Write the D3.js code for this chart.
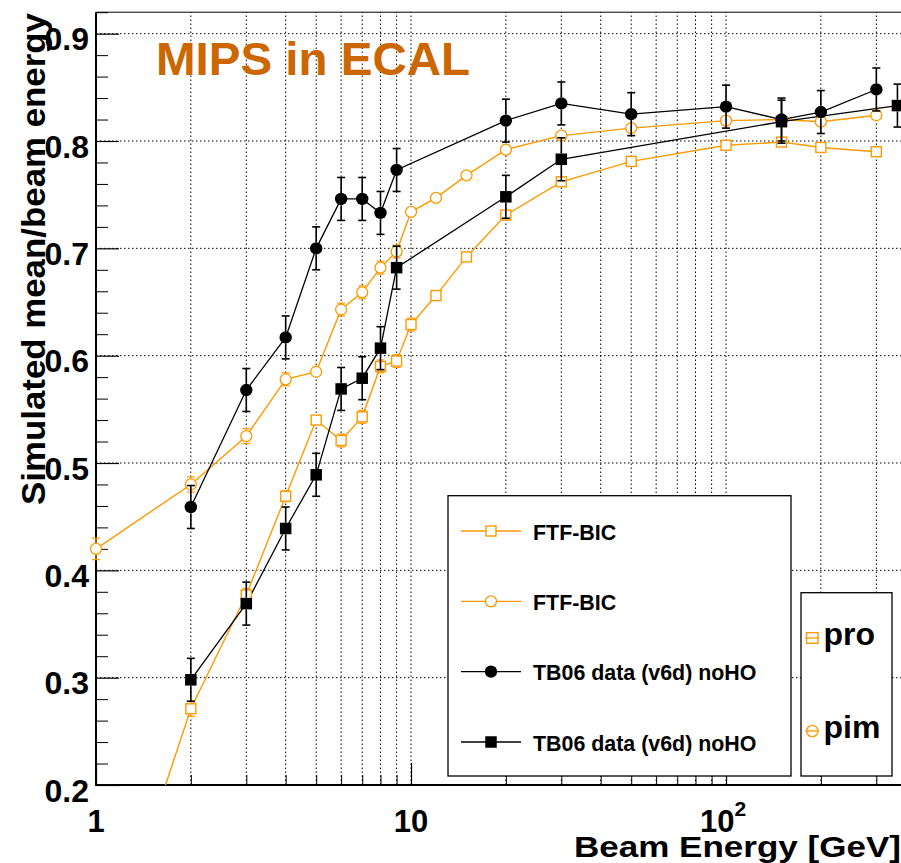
<!DOCTYPE html>
<html>
<head>
<meta charset="utf-8">
<script src="https://cdn.jsdelivr.net/npm/d3@7"></script>
<style>
  html, body { margin: 0; padding: 0; background: #fff; }
  svg { display: block; font-family: "Liberation Sans", Arial, Helvetica, sans-serif; font-weight: bold; }
</style>
</head>
<body>
<svg id="chart" width="901" height="863"></svg>
<script>
// ---------- DATA ----------
const energiesMC = [1, 2, 3, 4, 5, 6, 7, 8, 9, 10, 12, 15, 20, 30, 50, 100, 150, 200, 300];
const ftfPro    = [0.005, 0.271, 0.377, 0.469, 0.540, 0.521, 0.543, 0.590, 0.595, 0.629, 0.656, 0.692, 0.731, 0.762, 0.781, 0.796, 0.799, 0.794, 0.790];
const ftfProErr = [0.010, 0.007, 0.006, 0.005, 0.004, 0.006, 0.006, 0.006, 0.006, 0.006, 0.004, 0.004, 0.004, 0.004, 0.003, 0.003, 0.003, 0.003, 0.003];
const ftfPim    = [0.420, 0.480, 0.525, 0.578, 0.585, 0.643, 0.659, 0.682, 0.697, 0.734, 0.747, 0.768, 0.792, 0.805, 0.812, 0.819, 0.820, 0.818, 0.824];
const ftfPimErr = [0.010, 0.007, 0.007, 0.006, 0.005, 0.006, 0.006, 0.006, 0.006, 0.005, 0.004, 0.004, 0.004, 0.004, 0.003, 0.003, 0.003, 0.003, 0.003];

const energiesDataPim = [2, 3, 4, 5, 6, 7, 8, 9, 20, 30, 50, 100, 150, 200, 300];
const dataPim         = [0.459, 0.568, 0.617, 0.700, 0.746, 0.746, 0.733, 0.773, 0.819, 0.835, 0.825, 0.832, 0.820, 0.827, 0.848];
const dataPimErr      = [0.02, 0.02, 0.02, 0.02, 0.02, 0.02, 0.02, 0.02, 0.02, 0.02, 0.02, 0.02, 0.02, 0.02, 0.02];

const energiesDataPro = [2, 3, 4, 5, 6, 7, 8, 9, 20, 30, 150, 350];
const dataPro         = [0.298, 0.369, 0.439, 0.489, 0.569, 0.579, 0.607, 0.682, 0.748, 0.783, 0.818, 0.833];
const dataProErr      = [0.02, 0.02, 0.02, 0.02, 0.02, 0.02, 0.02, 0.02, 0.02, 0.02, 0.02, 0.02];

const legendLabels = ["FTF-BIC", "FTF-BIC", "TB06 data (v6d) noHO", "TB06 data (v6d) noHO"];
const particleLabels = ["pro", "pim"];
const yMajorTicks = [0.2, 0.3, 0.4, 0.5, 0.6, 0.7, 0.8, 0.9];
const yTickLabels = ["0.2", "0.3", "0.4", "0.5", "0.6", "0.7", "0.8", "0.9"];
const xMajorTicks = [1, 10, 100];
const xTickLabels = [["1", ""], ["10", ""], ["10", "2"]];
const xMinorTicks = [2, 3, 4, 5, 6, 7, 8, 9, 20, 30, 40, 50, 60, 70, 80, 90, 200, 300];
const titleText = "MIPS in ECAL";
const xTitle = "Beam Energy [GeV]";
const yTitle = "Simulated mean/beam energy";

// ---------- LAYOUT ----------
const ORANGE = "#ff9900";
const TITLE_COLOR = "#cc6600";
const L = 96, B = 785, T = 12.2, R = 915.7;
const svg = d3.select("#chart");
const x = d3.scaleLog().domain([1, 400]).range([L, R]);
const y = d3.scaleLinear().domain([0.2, 0.92]).range([B, T]);

svg.append("defs").append("clipPath").attr("id", "frameClip")
  .append("rect").attr("x", L).attr("y", T).attr("width", R - L).attr("height", B - T);

// grid
const grid = svg.append("g").attr("stroke", "#000").attr("stroke-width", 1).attr("stroke-dasharray", "1.5,2.5");
grid.selectAll("line.vx").data(xMinorTicks.concat([10, 100])).enter().append("line")
  .attr("x1", d => x(d)).attr("x2", d => x(d)).attr("y1", B).attr("y2", T);
grid.selectAll("line.hy").data(yMajorTicks.slice(1)).enter().append("line")
  .attr("x1", L).attr("x2", R).attr("y1", d => y(d)).attr("y2", d => y(d));

// ticks via d3 axes (inward)
const yMinorVals = d3.range(0, 37).map(i => +(0.2 + i * 0.02).toFixed(2));
svg.append("g").attr("transform", `translate(${L},0)`)
  .call(d3.axisLeft(y).tickValues(yMinorVals.filter(v => !yMajorTicks.some(m => Math.abs(m - v) < 1e-9))).tickSize(-12).tickFormat(""))
  .call(g => g.select(".domain").remove())
  .call(g => g.selectAll("line").attr("stroke", "#000").attr("stroke-width", 1));
svg.append("g").attr("transform", `translate(${L},0)`)
  .call(d3.axisLeft(y).tickValues(yMajorTicks).tickSize(-23).tickFormat(""))
  .call(g => g.select(".domain").remove())
  .call(g => g.selectAll("line").attr("stroke", "#000").attr("stroke-width", 1.2));
svg.append("g").attr("transform", `translate(0,${B})`)
  .call(d3.axisBottom(x).tickValues(xMinorTicks).tickSize(-10).tickFormat(""))
  .call(g => g.select(".domain").remove())
  .call(g => g.selectAll("line").attr("stroke", "#000").attr("stroke-width", 1));
svg.append("g").attr("transform", `translate(0,${B})`)
  .call(d3.axisBottom(x).tickValues(xMajorTicks).tickSize(-22).tickFormat(""))
  .call(g => g.select(".domain").remove())
  .call(g => g.selectAll("line").attr("stroke", "#000").attr("stroke-width", 1.2));

// frame
svg.append("line").attr("x1", L).attr("x2", R).attr("y1", T).attr("y2", T).attr("stroke", "#000").attr("stroke-width", 1);
svg.append("line").attr("x1", L).attr("x2", L).attr("y1", T).attr("y2", B + 1).attr("stroke", "#000").attr("stroke-width", 2);
svg.append("line").attr("x1", L - 1).attr("x2", R).attr("y1", B).attr("y2", B).attr("stroke", "#000").attr("stroke-width", 2);

// tick labels
svg.append("g").selectAll("text").data(yMajorTicks).enter().append("text")
  .attr("x", 89).attr("y", d => y(d) + 16.5).attr("text-anchor", "end")
  .attr("font-size", 32).text((d, i) => yTickLabels[i]);
const xl = svg.append("g").selectAll("text").data(xMajorTicks).enter().append("text")
  .attr("x", d => x(d)).attr("y", 832).attr("text-anchor", "middle").attr("font-size", 31);
xl.each(function(d, i) {
  const t = d3.select(this);
  const lab = xTickLabels[i];
  if (lab[1]) {
    t.attr("x", x(d) - 3);
    t.append("tspan").text(lab[0]);
    t.append("tspan").attr("font-size", 21).attr("dy", -16).text(lab[1]);
  } else {
    t.text(lab[0]);
  }
});

// axis titles
svg.append("text").attr("x", 574).attr("y", 857).attr("font-size", 29.5)
  .attr("textLength", 327).attr("lengthAdjust", "spacingAndGlyphs").text(xTitle);
svg.append("text").attr("transform", "translate(45,505) rotate(-90)").attr("font-size", 32.5)
  .attr("textLength", 492).attr("lengthAdjust", "spacingAndGlyphs").text(yTitle);

// title
svg.append("text").attr("x", 156).attr("y", 75).attr("font-size", 47).attr("fill", TITLE_COLOR)
  .attr("textLength", 314).attr("lengthAdjust", "spacingAndGlyphs").text(titleText);

// ---------- SERIES ----------
const lines = svg.append("g").attr("clip-path", "url(#frameClip)");
const marks = svg.append("g");
function drawSeries(xs, ys, errs, color, shape, size, filled, lineW) {
  const pts = xs.map((e, i) => ({ e, v: ys[i], err: errs[i] }));
  lines.append("path").datum(pts)
    .attr("d", d3.line().x(d => x(d.e)).y(d => y(d.v)))
    .attr("fill", "none").attr("stroke", color).attr("stroke-width", lineW);
  const g = marks.append("g");
  const vis = pts.filter(p => p.v >= 0.2 && p.v <= 0.92);
  const half = shape === "circle" ? size : size / 2;
  const capW = 4;
  const ew = filled ? 1.6 : 1.2;
  vis.forEach(p => {
    const cx = x(p.e), cy = y(p.v);
    const up = y(p.v + p.err), dn = y(Math.max(0.2, p.v - p.err));
    if (cy - up > half) {
      g.append("line").attr("x1", cx).attr("x2", cx).attr("y1", cy - half).attr("y2", up).attr("stroke", color).attr("stroke-width", ew);
      g.append("line").attr("x1", cx).attr("x2", cx).attr("y1", cy + half).attr("y2", dn).attr("stroke", color).attr("stroke-width", ew);
      g.append("line").attr("x1", cx - capW).attr("x2", cx + capW).attr("y1", up).attr("y2", up).attr("stroke", color).attr("stroke-width", ew);
      g.append("line").attr("x1", cx - capW).attr("x2", cx + capW).attr("y1", dn).attr("y2", dn).attr("stroke", color).attr("stroke-width", ew);
    }
  });
  vis.forEach(p => {
    const cx = x(p.e), cy = y(p.v);
    if (shape === "circle") {
      g.append("circle").attr("cx", cx).attr("cy", cy).attr("r", size)
        .attr("fill", filled ? color : "#fff").attr("stroke", color).attr("stroke-width", filled ? 0 : 1.3);
    } else {
      g.append("rect").attr("x", cx - size / 2).attr("y", cy - size / 2).attr("width", size).attr("height", size)
        .attr("fill", filled ? color : "#fff").attr("stroke", color).attr("stroke-width", filled ? 0 : 1.4);
    }
  });
}
drawSeries(energiesMC, ftfPro, ftfProErr, ORANGE, "square", 10, false, 1.4);
drawSeries(energiesMC, ftfPim, ftfPimErr, ORANGE, "circle", 5.5, false, 1.4);
drawSeries(energiesDataPim, dataPim, dataPimErr, "#000", "circle", 6.2, true, 1.3);
drawSeries(energiesDataPro, dataPro, dataProErr, "#000", "square", 11.5, true, 1.3);

// ---------- LEGENDS ----------
const leg = svg.append("g");
leg.append("rect").attr("x", 448).attr("y", 495.7).attr("width", 343).attr("height", 280.3)
  .attr("fill", "#fff").attr("stroke", "#000").attr("stroke-width", 1.3);
const legStyles = [
  { color: ORANGE, shape: "square", size: 10, filled: false },
  { color: ORANGE, shape: "circle", size: 5.5, filled: false },
  { color: "#000", shape: "circle", size: 6.2, filled: true },
  { color: "#000", shape: "square", size: 11.5, filled: true }
];
const legY = d3.scalePoint().domain(d3.range(legendLabels.length)).range([531, 742]);
legendLabels.forEach((lab, i) => {
  const s = legStyles[i], cy = legY(i);
  leg.append("line").attr("x1", 461).attr("x2", 521).attr("y1", cy).attr("y2", cy).attr("stroke", s.color).attr("stroke-width", 1.4);
  if (s.shape === "circle") {
    leg.append("circle").attr("cx", 491).attr("cy", cy).attr("r", s.size)
      .attr("fill", s.filled ? s.color : "#fff").attr("stroke", s.color).attr("stroke-width", s.filled ? 0 : 1.3);
  } else {
    leg.append("rect").attr("x", 491 - s.size / 2).attr("y", cy - s.size / 2).attr("width", s.size).attr("height", s.size)
      .attr("fill", s.filled ? s.color : "#fff").attr("stroke", s.color).attr("stroke-width", s.filled ? 0 : 1.4);
  }
  leg.append("text").attr("x", 533).attr("y", cy + 8.5).attr("font-size", 21.4).text(lab);
});

const leg2 = svg.append("g");
leg2.append("rect").attr("x", 801).attr("y", 592.7).attr("width", 91).attr("height", 183.3)
  .attr("fill", "#fff").attr("stroke", "#000").attr("stroke-width", 1.3);
const leg2Y = [638, 731];
particleLabels.forEach((lab, i) => {
  const cy = leg2Y[i];
  leg2.append("line").attr("x1", 805.5).attr("x2", 819).attr("y1", cy).attr("y2", cy).attr("stroke", ORANGE).attr("stroke-width", 1.3);
  if (i === 0) {
    leg2.append("rect").attr("x", 806.5).attr("y", cy - 5.3).attr("width", 11.5).attr("height", 10.6)
      .attr("fill", "none").attr("stroke", ORANGE).attr("stroke-width", 1.4);
  } else {
    leg2.append("circle").attr("cx", 812.3).attr("cy", cy).attr("r", 5.7)
      .attr("fill", "none").attr("stroke", ORANGE).attr("stroke-width", 1.3);
  }
  leg2.append("text").attr("x", 823.5).attr("y", cy + 6.5).attr("font-size", 32).text(lab);
});
</script>
</body>
</html>
